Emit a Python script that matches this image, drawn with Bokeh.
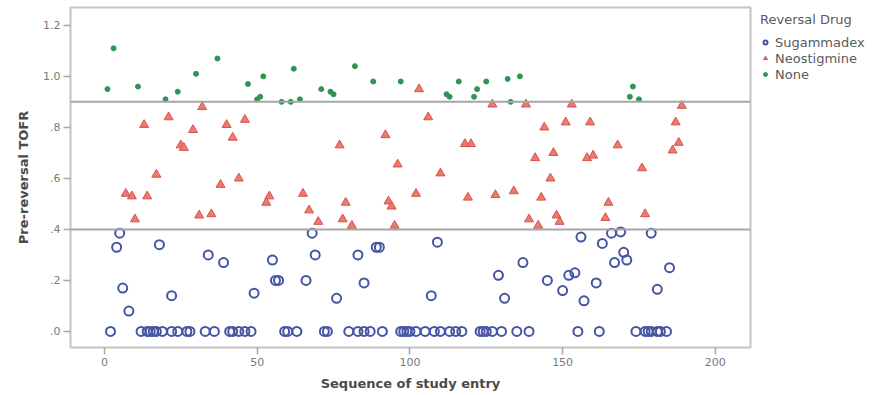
from bokeh.plotting import figure
from bokeh.models import Range1d, FixedTicker, Span, Legend, LegendItem
from bokeh.embed import file_html
from bokeh.resources import INLINE

# ---- data ----
none_x = [1, 3, 11, 20, 24, 30, 37, 47, 50, 51, 52, 58, 61, 62, 64, 71, 74, 75, 82, 88,
          97, 112, 113, 116, 121, 122, 125, 132, 133, 136, 172, 173, 175]
none_y = [0.95, 1.11, 0.96, 0.91, 0.94, 1.01, 1.07, 0.97, 0.91, 0.92, 1.00, 0.90, 0.90,
          1.03, 0.91, 0.95, 0.94, 0.93, 1.04, 0.98, 0.98, 0.93, 0.92, 0.98, 0.92, 0.95,
          0.98, 0.99, 0.90, 1.00, 0.92, 0.96, 0.91]

neo_x = [7, 9, 10, 13, 14, 17, 21, 25, 26, 29, 31, 32, 35, 38, 40, 42, 44, 46, 53, 54,
         65, 67, 70, 77, 78, 79, 81, 92, 93, 94, 95, 96, 102, 103, 106, 110, 118, 119,
         120, 127, 128, 134, 138, 139, 141, 142, 143, 144, 146, 147, 148, 149, 151, 153,
         158, 159, 160, 164, 165, 168, 176, 177, 186, 187, 188, 189]
neo_y = [0.54, 0.53, 0.44, 0.81, 0.53, 0.615, 0.84, 0.73, 0.72, 0.79, 0.455, 0.88, 0.46,
         0.575, 0.81, 0.76, 0.60, 0.83, 0.505, 0.53, 0.54, 0.475, 0.43, 0.73, 0.44, 0.505,
         0.415, 0.77, 0.51, 0.49, 0.415, 0.655, 0.54, 0.95, 0.84, 0.62, 0.735, 0.525,
         0.735, 0.89, 0.535, 0.55, 0.89, 0.44, 0.68, 0.415, 0.525, 0.80, 0.60, 0.70,
         0.455, 0.43, 0.82, 0.89, 0.68, 0.82, 0.69, 0.445, 0.505, 0.73, 0.64, 0.46,
         0.71, 0.82, 0.74, 0.885]

sug_zero_x = [2, 12, 14, 15, 16, 17, 19, 22, 24, 27, 28, 33, 36, 41, 42, 44, 46, 48, 59,
              60, 63, 72, 73, 80, 83, 85, 87, 91, 97, 98, 99, 100, 102, 105, 108, 110,
              113, 115, 117, 123, 124, 125, 127, 130, 135, 139, 155, 162, 174, 177, 178,
              179, 181, 182, 184]
sug_pos_x = [4, 5, 6, 8, 18, 22, 34, 39, 49, 55, 56, 57, 66, 68, 69, 76, 83, 85, 89, 90,
             107, 109, 129, 131, 137, 145, 150, 152, 154, 156, 157, 161, 163, 166, 167,
             169, 170, 171, 179, 181, 185]
sug_pos_y = [0.33, 0.385, 0.17, 0.08, 0.34, 0.14, 0.30, 0.27, 0.15, 0.28, 0.20, 0.20,
             0.20, 0.385, 0.30, 0.13, 0.30, 0.19, 0.33, 0.33, 0.14, 0.35, 0.22, 0.13,
             0.27, 0.20, 0.16, 0.22, 0.23, 0.37, 0.12, 0.19, 0.345, 0.385, 0.27, 0.39,
             0.31, 0.28, 0.385, 0.165, 0.25]

sug_x = sug_zero_x + sug_pos_x
sug_y = [0.0] * len(sug_zero_x) + sug_pos_y

ref_lines = [0.9, 0.4]
y_ticks = [0, 0.2, 0.4, 0.6, 0.8, 1.0, 1.2]
y_tick_labels = [".0", ".2", ".4", ".6", ".8", "1.0", "1.2"]
x_ticks = [0, 50, 100, 150, 200]

FONT = "DejaVu Sans"
BLUE = "#4654a6"
RED_FILL = "#ec7a70"
RED_LINE = "#d8524a"
GREEN = "#2f9455"

p = figure(frame_width=680, frame_height=340, x_range=Range1d(-11.1, 211.5),
           y_range=Range1d(-0.063, 1.27), output_backend="svg",
           toolbar_location=None, min_border_left=70, min_border_right=10,
           min_border_top=7, min_border_bottom=48)

p.xgrid.visible = False
p.ygrid.visible = False
p.outline_line_color = "#c4c4c4"
p.outline_line_width = 2
p.background_fill_color = "white"
p.border_fill_color = "white"

for v in ref_lines:
    p.add_layout(Span(location=v, dimension="width", line_color="#a6a6a6", line_width=2))

r_sug = p.scatter(x=sug_x, y=sug_y, marker="circle", size=9, fill_color=None,
                  line_color=BLUE, line_width=2)
r_neo = p.scatter(x=neo_x, y=neo_y, marker="triangle", size=9, fill_color=RED_FILL,
                  line_color=RED_LINE, line_width=1)
r_none = p.scatter(x=none_x, y=none_y, marker="circle", size=5, fill_color=GREEN,
                   line_color=GREEN, line_width=1)

# axes
p.yaxis.ticker = FixedTicker(ticks=y_ticks)
p.yaxis.major_label_overrides = {t: l for t, l in zip(y_ticks, y_tick_labels)}
p.xaxis.ticker = FixedTicker(ticks=x_ticks)
for ax in (p.xaxis, p.yaxis):
    ax.axis_line_color = None
    ax.major_tick_line_color = "#a8a8a8"
    ax.major_tick_line_width = 1.5
    ax.major_tick_in = 0
    ax.major_tick_out = 7
    ax.minor_tick_line_color = None
    ax.major_label_text_font = FONT
    ax.major_label_text_font_size = "11px"
    ax.major_label_text_color = "#7a7a7a"
    ax.axis_label_text_font = FONT
    ax.axis_label_text_font_size = "13px"
    ax.axis_label_text_font_style = "bold"
    ax.axis_label_text_color = "#4a4a4a"
p.yaxis.major_label_standoff = 3
p.xaxis.major_label_standoff = 3
p.yaxis.axis_label = "Pre-reversal TOFR"
p.xaxis.axis_label = "Sequence of study entry"
p.yaxis.axis_label_standoff = 9
p.xaxis.axis_label_standoff = 7

legend = Legend(items=[LegendItem(label="Sugammadex", renderers=[r_sug]),
                       LegendItem(label="Neostigmine", renderers=[r_neo]),
                       LegendItem(label="None", renderers=[r_none])],
                title="Reversal Drug", location=(10, 265))
legend.title_text_font = FONT
legend.title_text_font_size = "13px"
legend.title_text_font_style = "normal"
legend.title_text_color = "#5a5a5a"
legend.title_standoff = 7
legend.label_text_font = FONT
legend.label_text_font_size = "13px"
legend.label_text_color = "#5a5a5a"
legend.label_height = 16
legend.glyph_height = 16
legend.glyph_width = 10
legend.label_standoff = 5
legend.spacing = 0
legend.padding = 0
legend.margin = 0
legend.border_line_color = None
legend.background_fill_color = None
p.add_layout(legend, "right")

open("out.html", "w").write(file_html(p, INLINE))
